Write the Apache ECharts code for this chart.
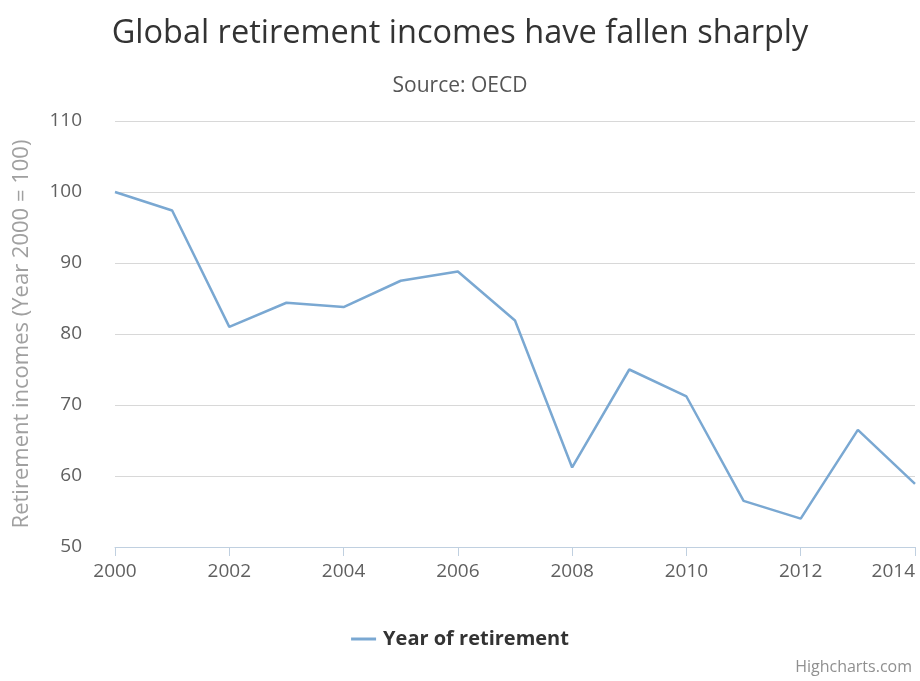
<!DOCTYPE html>
<html>
<head>
<meta charset="utf-8">
<script src="https://cdn.jsdelivr.net/npm/echarts@6/dist/echarts.min.js"></script>
<style>
html,body{margin:0;padding:0;background:#fff;}
#chart{width:920px;height:681px;}
</style>
</head>
<body>
<div id="chart"></div>
<script>
const years = ['2000','2001','2002','2003','2004','2005','2006','2007','2008','2009','2010','2011','2012','2013','2014'];
const retirementIncome = [100, 97.4, 81.0, 84.4, 83.8, 87.5, 88.8, 81.9, 61.2, 75.0, 71.2, 56.5, 54.0, 66.5, 58.9];
const seriesName = 'Year of retirement';
const titleText = 'Global retirement incomes have fallen sharply';
const subtitleText = 'Source: OECD';
const yAxisTitle = 'Retirement incomes (Year 2000 = 100)';
const creditText = 'Highcharts.com';

const chart = echarts.init(document.getElementById('chart'), null, {renderer:'canvas'});
const font = '"Open Sans", "DejaVu Sans", sans-serif';
chart.setOption({
  backgroundColor: '#ffffff',
  animation: false,
  title: [
    {text: titleText, left: 'center', top: 12, textStyle:{fontFamily: font, fontSize: 32.5, fontWeight: 'normal', color: '#333333'}},
    {text: subtitleText, left: 'center', top: 71, textStyle:{fontFamily: font, fontSize: 21, fontWeight: 'normal', color: '#555555'}},
    {text: creditText, right: 3, bottom: 1, textStyle:{fontFamily: font, fontSize: 16, fontWeight: 'normal', color: '#909090'}}
  ],
  legend: {
    data: [seriesName],
    left: 'center', top: 624,
    icon: 'path://M0,0 L1,0 L1,0.12 L0,0.12 Z',
    itemWidth: 29, itemHeight: 3, itemGap: 10,
    textStyle: {fontFamily: font, fontSize: 20, fontWeight: 'bold', color: '#333333'}
  },
  grid: {left: 115, right: 5, top: 121, bottom: 134, containLabel: false, outerBoundsMode: 'none'},
  xAxis: {
    type: 'category',
    data: years,
    boundaryGap: false,
    axisLine: {show: true, lineStyle: {color: '#C0D0E0', width: 1}},
    axisTick: {show: true, interval: 1, length: 9, lineStyle: {color: '#C0D0E0'}},
    axisLabel: {interval: 1, margin: 15, fontFamily: font, fontSize: 19, color: '#606060', alignMaxLabel: 'right'},
    splitLine: {show: false}
  },
  yAxis: {
    type: 'value',
    min: 50, max: 110, interval: 10,
    name: yAxisTitle,
    nameLocation: 'middle',
    nameGap: 82,
    nameRotate: 90,
    nameTextStyle: {fontFamily: font, fontSize: 22, color: '#a0a0a0'},
    axisLine: {show: false},
    axisTick: {show: false},
    axisLabel: {margin: 33, fontFamily: font, fontSize: 19, color: '#606060'},
    splitLine: {show: true, lineStyle: {color: '#D8D8D8', width: 1}}
  },
  series: [{
    name: seriesName,
    type: 'line',
    data: retirementIncome,
    symbol: 'none',
    lineStyle: {color: '#7aa8d2', width: 2.5},
    itemStyle: {color: '#7aa8d2'}
  }]
});
</script>
</body>
</html>
